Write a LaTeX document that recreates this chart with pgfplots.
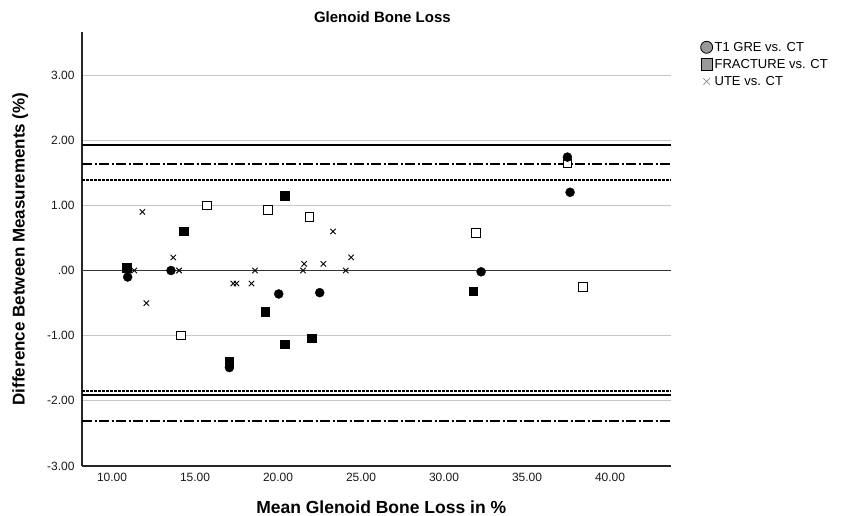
\documentclass[border=0pt]{standalone}
\usepackage{fontspec}
\setmainfont{Liberation Sans}
\usepackage{pgfplots}
\pgfplotsset{compat=1.18}
\begin{document}
\begin{tikzpicture}[x=1pt,y=1pt]
\useasboundingbox (0,0) rectangle (843,516);
\begin{axis}[
  at={(82pt,50pt)}, anchor=south west, scale only axis,
  width=589pt, height=434pt,
  xmin=8.19, xmax=43.67, ymin=-3, ymax=3.66,
  axis x line*=bottom, axis y line*=left,
  axis line style={line width=1.2pt, color=black!85},
  xtick={10,15,20,25,30,35,40},
  xticklabels={10.00,15.00,20.00,25.00,30.00,35.00,40.00},
  ytick={-3,-2,-1,0,1,2,3},
  yticklabels={-3.00,-2.00,-1.00,.00,1.00,2.00,3.00},
  major tick length=0pt,
  ymajorgrids, grid style={color=black!22, line width=0.8pt},
  tick label style={font=\fontsize{12}{14}\selectfont, color=black!90},
  yticklabel style={xshift=-4pt},
  xticklabel style={yshift=-4pt},
  title={Glenoid Bone Loss},
  title style={at={(axis description cs:0.51,1.021)}, anchor=center, font=\bfseries\fontsize{15}{17}\selectfont},
  xlabel={Mean Glenoid Bone Loss in \%},
  xlabel style={at={(axis description cs:0.508,-0.096)}, anchor=center, font=\bfseries\fontsize{17.5}{19}\selectfont},
  ylabel={Difference Between Measurements (\%)},
  ylabel style={at={(axis description cs:-0.105,0.5)}, anchor=center, font=\bfseries\fontsize{17}{19}\selectfont},
  legend style={at={(axis description cs:1.05,0.982)}, anchor=north west, draw=none, fill=none,
    font=\fontsize{13}{16}\selectfont, inner sep=0pt, row sep=2.5pt,
    /tikz/every even column/.append style={column sep=2pt}},
  legend cell align=left,
  legend image code/.code={\draw[#1] plot coordinates {(0pt,0pt)};},
]
% legend entries
\addlegendimage{only marks, mark=*, mark size=6pt, mark options={fill=black!40, draw=black, line width=0.8pt}}
\addlegendentry{T1 GRE vs. CT}
\addlegendimage{only marks, mark=square*, mark size=5.6pt, mark options={fill=black!40, draw=black, line width=0.8pt}}
\addlegendentry{FRACTURE vs. CT}
\addlegendimage{only marks, mark=x, mark size=4.5pt, mark options={draw=black!45, line width=0.7pt}}
\addlegendentry{UTE vs. CT}

% reference / limit lines
\addplot[forget plot, no marks, color=black!80, line width=1.3pt] coordinates {(8.19,0) (43.67,0)};
\addplot[forget plot, no marks, color=black, line width=2pt] coordinates {(8.19,1.93) (43.67,1.93)};
\addplot[forget plot, no marks, color=black, line width=2pt] coordinates {(8.19,-1.91) (43.67,-1.91)};
\addplot[forget plot, no marks, color=black, line width=1.8pt, dash pattern=on 10pt off 2.5pt on 2pt off 2.5pt] coordinates {(8.19,1.64) (43.67,1.64)};
\addplot[forget plot, no marks, color=black, line width=1.8pt, dash pattern=on 10pt off 2.5pt on 2pt off 2.5pt] coordinates {(8.19,-2.31) (43.67,-2.31)};
\addplot[forget plot, no marks, color=black, line width=1.6pt, dash pattern=on 2.5pt off 1.5pt] coordinates {(8.19,1.39) (43.67,1.39)};
\addplot[forget plot, no marks, color=black, line width=1.6pt, dash pattern=on 2.5pt off 1.5pt] coordinates {(8.19,-1.85) (43.67,-1.85)};

% UTE vs. CT
\addplot[forget plot, only marks, mark=x, mark size=3.8pt, mark options={draw=black, line width=0.9pt}] coordinates {
(11.83,0.90) (13.69,0.20) (11.34,0) (14.04,0) (12.07,-0.50) (17.30,-0.20) (17.50,-0.20)
(18.61,0) (18.40,-0.20) (21.57,0.10) (21.50,0) (22.73,0.10) (23.31,0.60) (24.40,0.20) (24.08,0)};

% FRACTURE vs. CT (hollow)
\addplot[forget plot, only marks, mark=square*, mark size=4.3pt, mark options={fill=white, draw=black, line width=1pt}] coordinates {
(15.72,1.00) (14.14,-1.00) (19.38,0.93) (21.90,0.82) (31.93,0.58) (38.37,-0.25) (37.43,1.64)};

% FRACTURE vs. CT (filled)
\addplot[forget plot, only marks, mark=square*, mark size=4.3pt, mark options={fill=black, draw=black, line width=0.6pt}] coordinates {
(10.88,0.04) (14.34,0.60) (17.07,-1.40) (19.22,-0.63) (20.42,1.15) (20.42,-1.13) (22.05,-1.04) (31.77,-0.32)};

% T1 GRE vs. CT
\addplot[forget plot, only marks, mark=*, mark size=4.5pt, mark options={fill=black, draw=black}] coordinates {
(10.94,-0.10) (13.55,0.00) (17.07,-1.49) (20.04,-0.36) (22.51,-0.34) (32.23,-0.02) (37.43,1.74) (37.59,1.20)};
\end{axis}
\end{tikzpicture}
\end{document}
